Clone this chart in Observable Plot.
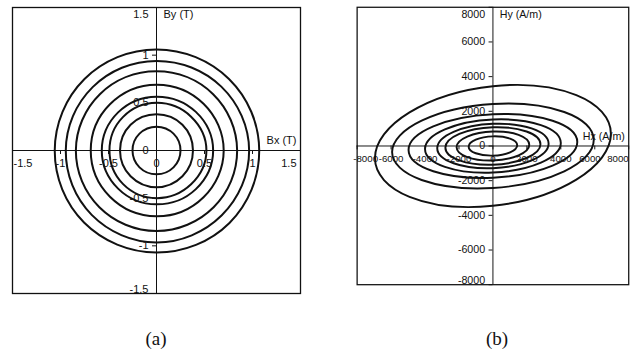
<!DOCTYPE html>
<html>
<head>
<meta charset="utf-8">
<script src="https://cdn.jsdelivr.net/npm/d3@7"></script>
<script src="https://cdn.jsdelivr.net/npm/@observablehq/plot@0.6"></script>
<style>
  html, body { margin: 0; padding: 0; background: #fff; }
  #wrap { position: relative; width: 636px; height: 352px; overflow: hidden; background: #fff; }
  .panel { position: absolute; top: 0; }
  .cap { position: absolute; top: 328px; width: 60px; text-align: center;
         font: 19px/21px "Liberation Serif", "Times New Roman", serif; color: #111; }
</style>
</head>
<body>
<div id="wrap">
  <div id="pa" class="panel" style="left:0px"></div>
  <div id="pb" class="panel" style="left:345px"></div>
  <div class="cap" style="left:126px">(a)</div>
  <div class="cap" style="left:467px">(b)</div>
</div>
<script>
// ---------- data ----------
// Tick values of each panel
const bTicks = [-1.5, -1, -0.5, 0, 0.5, 1, 1.5];
const hTicks = [-8000, -6000, -4000, -2000, 0, 2000, 4000, 6000, 8000];

// Axis titles
const bTitles = ["Bx (T)", "By (T)"];
const hTitles = ["Hx (A/m)", "Hy (A/m)"];

// (a) B loci: 8 loops, each given by 8 points [Bx, By] (T) read around the loop
const bLoops = [
  [[0.25, 0], [0.177, 0.177], [0, 0.25], [-0.177, 0.177], [-0.25, 0], [-0.177, -0.177], [0, -0.25], [0.177, -0.177]],
  [[0.38, 0], [0.27, 0.27], [0, 0.38], [-0.27, 0.27], [-0.38, 0], [-0.27, -0.27], [0, -0.385], [0.27, -0.27]],
  [[0.52, 0], [0.36, 0.355], [0, 0.50], [-0.35, 0.35], [-0.49, 0], [-0.35, -0.35], [0, -0.50], [0.36, -0.355]],
  [[0.59, 0], [0.41, 0.405], [0, 0.565], [-0.40, 0.40], [-0.57, 0], [-0.40, -0.40], [0, -0.565], [0.41, -0.405]],
  [[0.70, 0], [0.49, 0.49], [0, 0.69], [-0.485, 0.485], [-0.685, 0], [-0.485, -0.485], [0, -0.69], [0.49, -0.49]],
  [[0.84, 0], [0.59, 0.59], [0, 0.83], [-0.59, 0.59], [-0.84, 0], [-0.595, -0.595], [0, -0.845], [0.595, -0.595]],
  [[0.965, 0], [0.675, 0.67], [0, 0.94], [-0.665, 0.665], [-0.945, 0], [-0.675, -0.675], [0, -0.965], [0.68, -0.68]],
  [[1.07, 0], [0.755, 0.75], [0, 1.06], [-0.75, 0.75], [-1.06, 0], [-0.755, -0.755], [0, -1.07], [0.76, -0.76]]
];

// (b) H loci: 8 loops, each given by 8 points [Hx, Hy] (A/m) read around the loop
const hLoops = [
  [[1430, 40], [1011, 421], [0, 556], [-1011, 365], [-1430, -40], [-1011, -421], [0, -556], [1011, -365]],
  [[2140, 70], [1513, 639], [0, 834], [-1513, 540], [-2140, -70], [-1513, -639], [0, -834], [1513, -540]],
  [[2800, 100], [1980, 834], [0, 1080], [-1980, 693], [-2800, -100], [-1980, -834], [0, -1080], [1980, -693]],
  [[3280, 130], [2319, 997], [0, 1280], [-2319, 813], [-3280, -130], [-2319, -997], [0, -1280], [2319, -813]],
  [[4000, 170], [2828, 1200], [0, 1530], [-2828, 960], [-4000, -170], [-2828, -1200], [0, -1530], [2828, -960]],
  [[4970, 230], [3514, 1456], [0, 1830], [-3514, 1130], [-4970, -230], [-3514, -1456], [0, -1830], [3514, -1130]],
  [[5940, 350], [4200, 1960], [0, 2420], [-4200, 1460], [-5940, -350], [-4200, -1960], [0, -2420], [4200, -1460]],
  [[6950, 700], [4914, 2930], [0, 3450], [-4914, 1940], [-6950, -700], [-4914, -2930], [0, -3450], [4914, -1940]]
];

// ---------- drawing ----------
function makePanel({loops, ticks, titles, width, mLeft, mRight, loDx, hiDx, preHiDx, xFont}) {
  const rows = loops.flatMap((pts, i) => pts.map(([x, y]) => ({loop: i, x, y})));
  const lo = ticks[0], hi = ticks[ticks.length - 1];
  const inner = ticks.slice(1, -2);
  const preHi = ticks[ticks.length - 2];
  const ink = "#111";
  const xl = {y: 0, text: d => String(d), dy: 13, fill: ink, fontSize: xFont};
  return Plot.plot({
    width, height: 300,
    marginTop: 7, marginBottom: 7, marginLeft: mLeft, marginRight: mRight,
    x: {domain: [lo, hi], axis: null},
    y: {domain: [lo, hi], axis: null},
    style: {fontFamily: '"Liberation Sans", Arial, sans-serif', fontSize: "11px", color: ink, background: "#fff", overflow: "visible"},
    marks: [
      Plot.ruleX([0], {stroke: ink, strokeWidth: 1}),
      Plot.ruleY([0], {stroke: ink, strokeWidth: 1}),
      Plot.ruleX(ticks, {x: d => d, y1: 0, y2: 0, insetBottom: -4, stroke: ink}),
      Plot.ruleY(ticks, {y: d => d, x1: 0, x2: 0, insetLeft: -4, stroke: ink}),
      // x tick labels
      Plot.text(inner, {...xl, x: d => d}),
      Plot.text([preHi], {...xl, x: d => d, dx: preHiDx}),
      Plot.text([lo], {...xl, x: d => d, textAnchor: "start", dx: loDx}),
      Plot.text([hi], {...xl, x: d => d, textAnchor: "end", dx: hiDx}),
      // y tick labels
      Plot.text(ticks.slice(1, -1), {x: 0, y: d => d, text: d => String(d), textAnchor: "end", dx: -8, fill: ink}),
      Plot.text([hi], {x: 0, y: d => d, text: d => String(d), textAnchor: "end", dx: -8, lineAnchor: "top", dy: 3, fill: ink}),
      Plot.text([lo], {x: 0, y: d => d, text: d => String(d), textAnchor: "end", dx: -8, lineAnchor: "bottom", dy: -1, fill: ink}),
      // axis titles
      Plot.text([titles[1]], {x: 0, y: hi, text: d => d, textAnchor: "start", lineAnchor: "top", dx: 7, dy: 3, fill: ink}),
      Plot.text([titles[0]], {x: hi, y: 0, text: d => d, textAnchor: "end", dx: -4, dy: -10, fill: ink}),
      // loci
      Plot.line(rows, {x: "x", y: "y", z: "loop", curve: "cardinal-closed", tension: -0.12, stroke: ink, strokeWidth: 2}),
      Plot.frame({stroke: ink, strokeWidth: 1.3})
    ]
  });
}

document.getElementById("pa").append(makePanel({
  loops: bLoops, ticks: bTicks, titles: bTitles, width: 312, mLeft: 12, mRight: 12,
  loDx: 1, hiDx: -4, preHiDx: 0, xFont: "11px"
}));
document.getElementById("pb").append(makePanel({
  loops: hLoops, ticks: hTicks, titles: hTitles, width: 300, mLeft: 12, mRight: 8,
  loDx: -4, hiDx: 0, preHiDx: -5, xFont: "10px"
}));
</script>
</body>
</html>
